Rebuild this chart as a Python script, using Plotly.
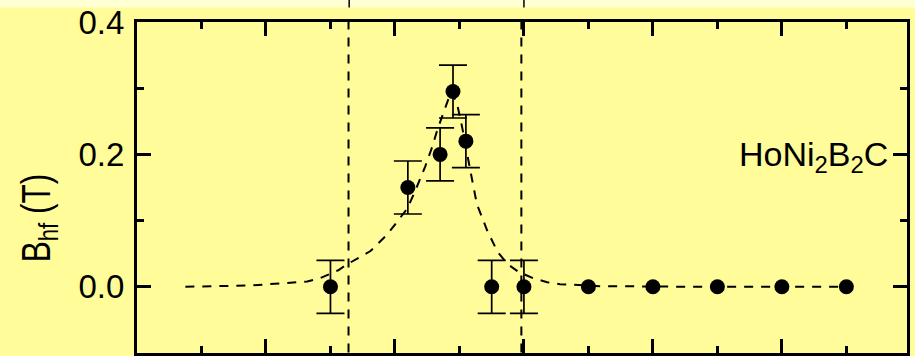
import plotly.graph_objects as go

# Measured hyperfine field vs temperature (axis in K, minor tick = 1 K)
temperature = [3.0, 4.2, 4.7, 4.9, 5.1, 5.5, 6.0, 7.0, 8.0, 9.0, 10.0, 11.0]
b_hf = [0.0, 0.15, 0.20, 0.295, 0.22, 0.0, 0.0, 0.0, 0.0, 0.0, 0.0, 0.0]
b_err = [0.04, 0.04, 0.04, 0.04, 0.04, 0.04, 0.04, None, None, None, None, None]

# Guide-to-the-eye curve through the peak
curve_t = [0.75, 1.76, 2.64, 2.84, 3.12, 3.26, 3.62, 3.88, 4.00, 4.19, 4.31, 4.47,
           4.58, 4.66, 4.76, 4.87, 4.96, 5.04, 5.17, 5.27, 5.43, 5.59, 5.75, 5.91,
           6.14, 6.36, 6.56, 7.18, 8.73, 11.0]
curve_b = [0.0, 0.002, 0.008, 0.013, 0.025, 0.034, 0.054, 0.079, 0.094, 0.118, 0.144, 0.182,
           0.212, 0.238, 0.265, 0.295, 0.278, 0.242, 0.175, 0.125, 0.085, 0.053, 0.034, 0.023,
           0.013, 0.007, 0.004, 0.001, 0.0, 0.0]

# Phase boundaries (vertical dashed lines)
boundaries = [3.28, 5.96]
upper_marks = [3.29, 6.0]

compound = "HoNi<sub>2</sub>B<sub>2</sub>C"
y_title = "B<sub>hf</sub> (T)"

BG = "#FFFC99"
STRIP = "#FFFFD4"
FONT = "Liberation Sans, Arial, sans-serif"

with_err = [i for i, e in enumerate(b_err) if e is not None]
no_err = [i for i, e in enumerate(b_err) if e is None]

fig = go.Figure()
fig.add_trace(go.Scatter(
    x=curve_t, y=curve_b, mode="lines",
    line=dict(color="black", width=2, dash="9px,8px"),
    hoverinfo="skip"))
fig.add_trace(go.Scatter(
    x=[temperature[i] for i in with_err], y=[b_hf[i] for i in with_err],
    mode="markers", marker=dict(color="black", size=15),
    error_y=dict(type="data", array=[b_err[i] for i in with_err],
                 color="black", thickness=1.7, width=14)))
fig.add_trace(go.Scatter(
    x=[temperature[i] for i in no_err], y=[b_hf[i] for i in no_err],
    mode="markers", marker=dict(color="black", size=15)))

shapes = [dict(type="rect", xref="paper", yref="paper", x0=-0.2, x1=1.05,
               y0=1.0438, y1=1.08, fillcolor=STRIP, line=dict(width=0), layer="below")]
for t in upper_marks:
    shapes.append(dict(type="line", xref="x", yref="paper", x0=t, x1=t,
                       y0=1.0438, y1=1.08, line=dict(color="black", width=1.5)))
for t in boundaries:
    shapes.append(dict(type="line", xref="x", yref="paper", x0=t, x1=t,
                       y0=-0.05, y1=1.0, line=dict(color="black", width=2, dash="9px,8px")))

axis_common = dict(showline=True, linewidth=3, linecolor="black", mirror="ticks",
                   ticks="inside", tickwidth=3, tickcolor="black", ticklen=14,
                   showgrid=False, zeroline=False)

fig.update_layout(
    width=915, height=356,
    margin=dict(l=137, r=8, t=22, b=3),
    paper_bgcolor=BG, plot_bgcolor=BG,
    showlegend=False,
    font=dict(family=FONT, color="black"),
    xaxis=dict(range=[0, 11.94], dtick=2, tick0=0, showticklabels=False,
               minor=dict(ticks="inside", ticklen=7, tickwidth=3, dtick=1, tick0=0,
                          tickcolor="black", showgrid=False),
               **axis_common),
    yaxis=dict(range=[-0.1, 0.4], dtick=0.2, tick0=0, tickformat=".1f",
               tickfont=dict(size=33, family=FONT), ticklabelstandoff=3,
               minor=dict(ticks="inside", ticklen=7, tickwidth=3, dtick=0.1, tick0=0,
                          tickcolor="black", showgrid=False),
               **axis_common),
    shapes=shapes,
    annotations=[
        dict(text=y_title, xref="paper", yref="paper", x=-0.128, y=0.409,
             textangle=-90, showarrow=False, xanchor="center", yanchor="middle",
             font=dict(size=40, family=FONT)),
        dict(text=compound, xref="x", yref="y", x=11.67, y=0.2, yshift=-2,
             showarrow=False, xanchor="right", yanchor="middle",
             font=dict(size=34, family=FONT)),
    ],
)

# Condensed lettering for the axis title: compress the text along its own direction
condense_title = """
var gd = document.getElementById('{plot_id}');
function condenseTitle() {
  var t = gd.querySelector('.annotation[data-index="0"] text.annotation-text');
  if (!t) return;
  var bb = t.getBBox();
  var cx = bb.x + bb.width / 2;
  t.setAttribute('transform',
    'translate(' + cx + ',0) scale(0.79,1) translate(' + (-cx) + ',0)');
}
condenseTitle();
setTimeout(condenseTitle, 0);
gd.on('plotly_afterplot', condenseTitle);
"""

fig.write_html("out.html", post_script=condense_title)
